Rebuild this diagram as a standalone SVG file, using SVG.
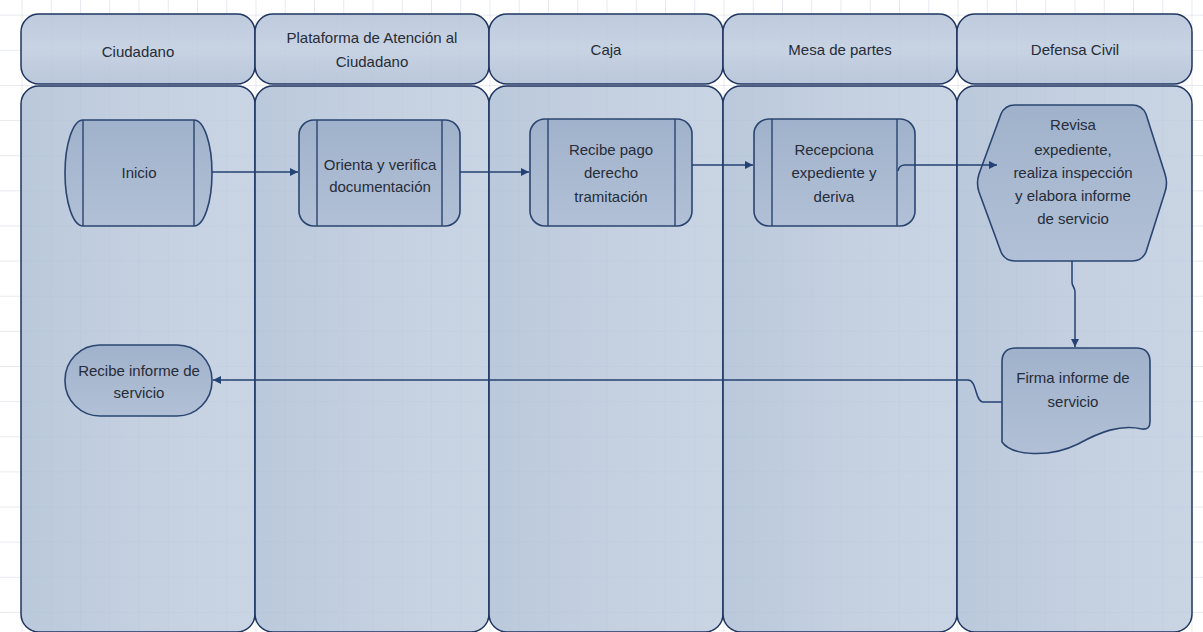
<svg xmlns="http://www.w3.org/2000/svg" width="1203" height="632" viewBox="0 0 1203 632">
  <defs>
    <pattern id="grid" patternUnits="userSpaceOnUse" x="21.5" y="14.7" width="29.25" height="35.13">
      <path d="M0,0 V35.13 M0,0 H29.25" fill="none" stroke="#cfd6df" stroke-width="1"/>
    </pattern>
    <linearGradient id="laneFill" x1="0" y1="0" x2="1" y2="0">
      <stop offset="0" stop-color="#aebfd5"/>
      <stop offset="0.5" stop-color="#bac8db"/>
      <stop offset="1" stop-color="#c0cddf"/>
    </linearGradient>
    <linearGradient id="headFill" x1="0" y1="0" x2="0" y2="1">
      <stop offset="0" stop-color="#b9c7db"/>
      <stop offset="0.5" stop-color="#c3cfe0"/>
      <stop offset="1" stop-color="#b4c3d8"/>
    </linearGradient>
    <linearGradient id="nodeFill" x1="0" y1="0" x2="0" y2="1">
      <stop offset="0" stop-color="#a0b2cb"/>
      <stop offset="1" stop-color="#b1c0d6"/>
    </linearGradient>
    <marker id="arrow" viewBox="0 0 10 10" refX="10" refY="5" markerWidth="9" markerHeight="8" markerUnits="userSpaceOnUse" orient="auto">
      <path d="M0,0 L10,5 L0,10 z" fill="#244273"/>
    </marker>
    <style>
      .head { fill: url(#headFill); fill-opacity: 0.92; stroke: #1f3560; stroke-width: 1.5; }
      .lane { fill: url(#laneFill); fill-opacity: 0.85; stroke: #1f3560; stroke-width: 1.5; }
      .node { fill: url(#nodeFill); stroke: #2a4570; stroke-width: 1.6; }
      .bar { fill: none; stroke: #2a4570; stroke-width: 1.4; }
      .conn { fill: none; stroke: #244273; stroke-width: 1.5; }
      text { font-family: "Liberation Sans", Arial, sans-serif; font-size: 15px; fill: #262c38; text-anchor: middle; }
    </style>
  </defs>

  <!-- page background with grid -->
  <rect x="0" y="0" width="1203" height="632" fill="#ffffff"/>
  <rect x="0" y="0" width="1203" height="632" fill="url(#grid)"/>

  <!-- swimlanes -->
  <g id="lane-ciudadano">
    <rect class="head" x="21" y="14" width="234" height="70" rx="18"/>
    <rect class="lane" x="21" y="86" width="234" height="546" rx="18"/>
    <text x="138" y="57">Ciudadano</text>
  </g>
  <g id="lane-plataforma">
    <rect class="head" x="255" y="14" width="234" height="70" rx="18"/>
    <rect class="lane" x="255" y="86" width="234" height="546" rx="18"/>
    <text x="372" y="43">Plataforma de Atención al</text>
    <text x="372" y="67">Ciudadano</text>
  </g>
  <g id="lane-caja">
    <rect class="head" x="489" y="14" width="234" height="70" rx="18"/>
    <rect class="lane" x="489" y="86" width="234" height="546" rx="18"/>
    <text x="606" y="55">Caja</text>
  </g>
  <g id="lane-mesa">
    <rect class="head" x="723" y="14" width="234" height="70" rx="18"/>
    <rect class="lane" x="723" y="86" width="234" height="546" rx="18"/>
    <text x="840" y="55">Mesa de partes</text>
  </g>
  <g id="lane-defensa">
    <rect class="head" x="957" y="14" width="235" height="70" rx="18"/>
    <rect class="lane" x="957" y="86" width="235" height="546" rx="18"/>
    <text x="1075" y="55">Defensa Civil</text>
  </g>

  <!-- process nodes -->
  <g id="inicio">
    <path class="node" d="M83,120 H194 A18,53 0 0 1 194,226 H83 A18,53 0 0 1 83,120 Z"/>
    <path class="bar" d="M83,120 V226 M194,120 V226"/>
    <text x="139" y="178">Inicio</text>
  </g>
  <g id="orienta">
    <rect class="node" x="299" y="120" width="161" height="106" rx="15"/>
    <path class="bar" d="M317,120 V226 M442,120 V226"/>
    <text x="380" y="170">Orienta y verifica</text>
    <text x="380" y="192">documentación</text>
  </g>
  <g id="recibe-pago">
    <rect class="node" x="530" y="119" width="162" height="107" rx="15"/>
    <path class="bar" d="M548,119 V226 M675,119 V226"/>
    <text x="611" y="155">Recibe pago</text>
    <text x="611" y="178">derecho</text>
    <text x="611" y="202">tramitación</text>
  </g>
  <g id="recepciona">
    <rect class="node" x="754" y="119" width="161" height="107" rx="15"/>
    <path class="bar" d="M772,119 V226 M897,119 V226"/>
    <text x="834" y="155">Recepciona</text>
    <text x="834" y="178">expediente y</text>
    <text x="834" y="202">deriva</text>
  </g>
  <g id="revisa">
    <path class="node" d="M1015,105 H1132 Q1142,105 1146,114 L1165,174 Q1168,183 1165,192 L1146,252 Q1142,261 1132,261 H1015 Q1005,261 1001,252 L979,192 Q976,183 979,174 L1001,114 Q1005,105 1015,105 Z"/>
    <text x="1073" y="130">Revisa</text>
    <text x="1073" y="155">expediente,</text>
    <text x="1073" y="178">realiza inspección</text>
    <text x="1073" y="201">y elabora informe</text>
    <text x="1073" y="224">de servicio</text>
  </g>
  <g id="firma">
    <path class="node" d="M1002,362 Q1002,348 1016,348 H1136 Q1150,348 1150,362 V422 Q1150,430 1142,429 C1120,424 1100,432 1078,444 C1050,458 1012,456 1002,442 Z"/>
    <text x="1073" y="383">Firma informe de</text>
    <text x="1073" y="407">servicio</text>
  </g>
  <g id="recibe-informe">
    <rect class="node" x="65" y="345" width="147" height="71" rx="35"/>
    <text x="139" y="376">Recibe informe de</text>
    <text x="139" y="398">servicio</text>
  </g>

  <!-- connectors -->
  <g id="connectors">
    <path class="conn" d="M212,172 H298" marker-end="url(#arrow)"/>
    <path class="conn" d="M460,172 H529" marker-end="url(#arrow)"/>
    <path class="conn" d="M692,165 H753" marker-end="url(#arrow)"/>
    <path class="conn" d="M898,171 Q899,165 905,165 H997" marker-end="url(#arrow)"/>
    <path class="conn" d="M1072,261 V282 C1072,287 1075,287 1075,292 V347" marker-end="url(#arrow)"/>
    <path class="conn" d="M1002,402 H983 C975,402 977,380 968,380 H213" marker-end="url(#arrow)"/>
  </g>
</svg>
